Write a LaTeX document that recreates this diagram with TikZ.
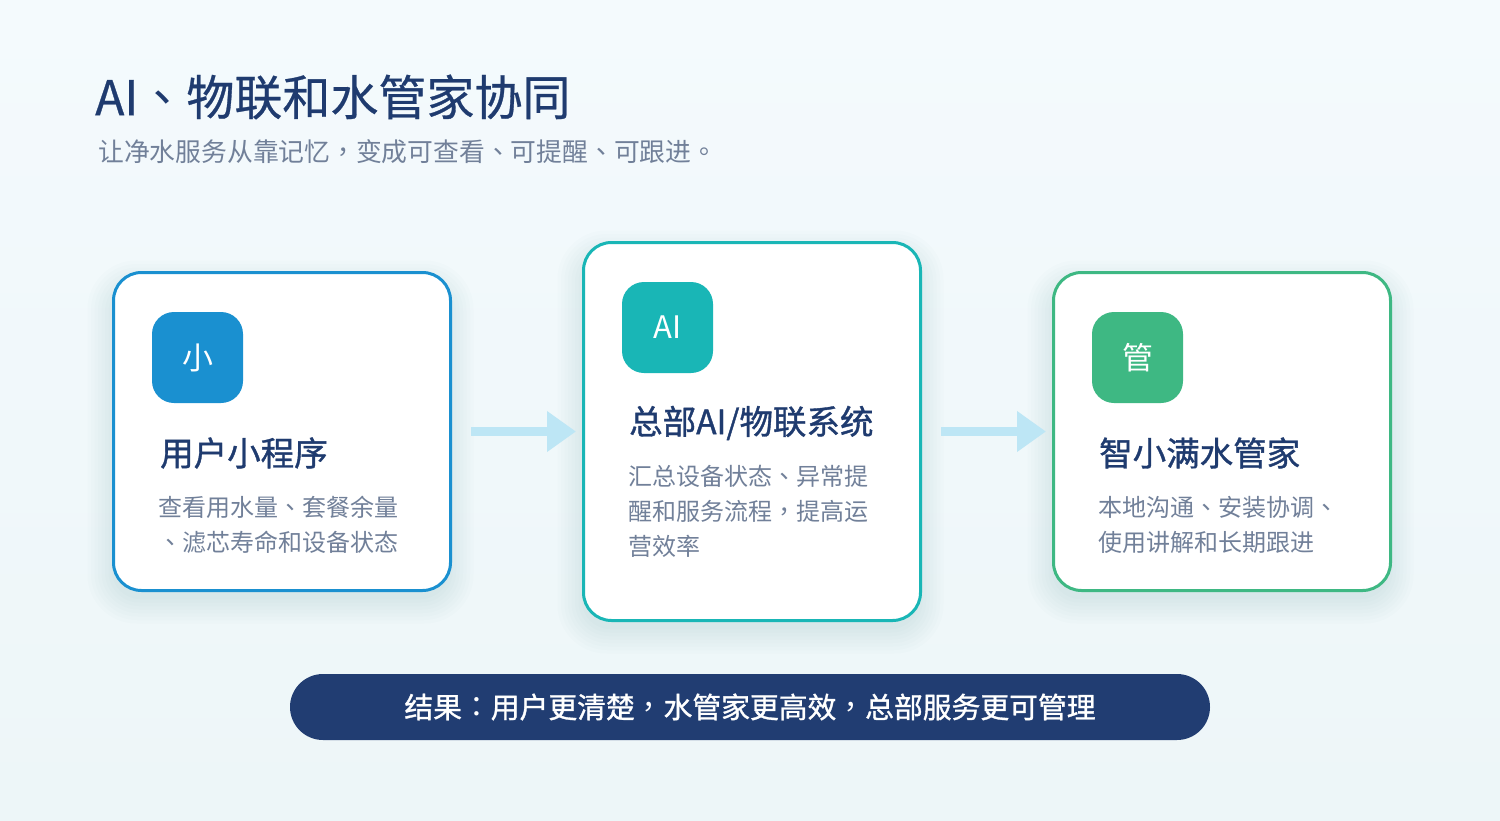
\documentclass[tikz,border=0pt]{standalone}
\usepackage{fontspec}
\setmainfont{Noto Sans CJK SC}
\newfontfamily\tcp{Noto Sans CJK TC}
\newfontfamily\medfont[FakeBold=1.1]{Noto Sans CJK SC}
\newfontfamily\semifont[FakeBold=0.6]{Noto Sans CJK SC}
\newcommand{\dun}{{\tcp 、}}
\newcommand{\dou}{{\tcp ，}}
\newcommand{\juhao}{{\tcp 。}}
\newcommand{\maohao}{{\tcp ：}}
\usetikzlibrary{arrows.meta}
\definecolor{bgtop}{HTML}{F4FAFD}
\definecolor{bgbot}{HTML}{EDF6F8}
\definecolor{navy}{HTML}{1F3B6F}
\definecolor{barnavy}{HTML}{213D72}
\definecolor{graytxt}{HTML}{718099}
\definecolor{cblue}{HTML}{1A90D0}
\definecolor{cteal}{HTML}{19B6B6}
\definecolor{cgreen}{HTML}{3EB883}
\definecolor{arrowc}{HTML}{BDE6F5}
\definecolor{shadowc}{HTML}{7FA6B8}
\tikzset{
  cardbox/.style={draw=#1, line width=3pt, fill=white, rounded corners=28pt, inner sep=0pt, minimum width=337pt, anchor=north west},
  iconbox/.style={fill=#1, rounded corners=22pt, minimum width=91pt, minimum height=91pt, inner sep=0pt, text=white, font=\fontsize{31}{31}\selectfont},
  cardtitle/.style={anchor=west, inner sep=0pt, text=navy, font=\fontsize{33.5}{33.5}\medfont},
  carddesc/.style={anchor=north west, inner sep=0pt, text=graytxt, align=left, font=\fontsize{24}{35}\selectfont},
  flowarrow/.style={draw=arrowc, line width=9.5pt, -{Triangle[length=29pt,width=39pt]}, shorten <=19pt, shorten >=6pt},
}
\newcommand{\softshadow}[4]{%
  \foreach \i in {0,...,7}{%
    \fill[shadowc, opacity=0.022, rounded corners={28pt+\i*3pt}]
      ({#1-\i*3.5},{#2+10-\i*3.5+4}) rectangle ({#1+#3+\i*3.5},{#2+#4+10+\i*3.5});
  }%
}
\begin{document}
\begin{tikzpicture}[x=1pt,y=-1pt]
\useasboundingbox (0,0) rectangle (1500,820);
\shade[top color=bgtop, bottom color=bgbot] (0,0) rectangle (1500,820);

% title
\node[anchor=west, inner sep=0pt, text=navy, font=\fontsize{48}{48}\semifont] (title) at (95,97) {AI\dun 物联和水管家协同};
\node[anchor=west, inner sep=0pt, text=graytxt, font=\fontsize{25.8}{25.8}\selectfont] (subtitle) at (98,152) {让净水服务从靠记忆\dou 变成可查看\dun 可提醒\dun 可跟进\juhao};

% shadows
\softshadow{112}{271}{337}{318}
\softshadow{582}{241}{337}{378}
\softshadow{1052}{271}{337}{318}

% cards
\node[cardbox=cblue, minimum height=318pt] (c1) at (112,271) {};
\node[cardbox=cteal, minimum height=378pt] (c2) at (582,241) {};
\node[cardbox=cgreen, minimum height=318pt] (c3) at (1052,271) {};

% icons
\node[iconbox=cblue] (i1) at (197.5,357.5) {小};
\node[iconbox=cteal] (i2) at (667.5,327.5) {AI};
\node[iconbox=cgreen] (i3) at (1137.5,357.5) {管};

% card titles
\node[cardtitle] (t1) at (160,453) {用户小程序};
\node[cardtitle] (t2) at (629,423) {总部AI/物联系统};
\node[cardtitle] (t3) at (1099,453) {智小满水管家};

% descriptions
\node[carddesc] (d1) at (158,496) {查看用水量\dun 套餐余量\\\dun 滤芯寿命和设备状态};
\node[carddesc] (d2) at (628,465) {汇总设备状态\dun 异常提\\醒和服务流程\dou 提高运\\营效率};
\node[carddesc] (d3) at (1098,496) {本地沟通\dun 安装协调\dun\\使用讲解和长期跟进};

% arrows
\draw[flowarrow] (c1.east) -- (c2.west);
\draw[flowarrow] (c2.east) -- (c3.west);

% bottom bar
\node[fill=barnavy, rounded corners=33pt, minimum width=920pt, minimum height=66pt, inner sep=0pt, text=white, font=\fontsize{28.8}{28.8}\medfont] (bar) at (750,707) {结果\maohao 用户更清楚\dou 水管家更高效\dou 总部服务更可管理};
\end{tikzpicture}
\end{document}
